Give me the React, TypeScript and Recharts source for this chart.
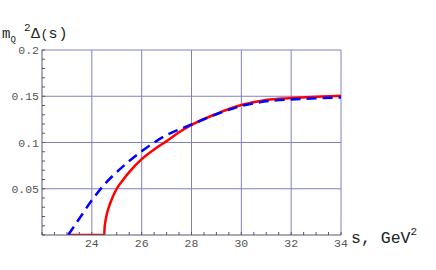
import React from "react";
import { LineChart, Line, XAxis, YAxis, ReferenceLine } from "recharts";

const redS = [23.05, 24.5, 24.51, 24.53, 24.58, 24.7, 24.85, 25, 25.25, 25.5, 26, 26.5, 27, 27.5, 28, 29, 30, 31, 32, 33, 34];
const redV = [0, 0, 0.007, 0.012, 0.02, 0.0316, 0.0418, 0.05, 0.0595, 0.068, 0.082, 0.0925, 0.1015, 0.111, 0.119, 0.131, 0.1405, 0.146, 0.148, 0.1495, 0.1505];

const blueS = [23.05, 23.5, 24, 24.5, 25, 25.5, 26, 26.5, 27, 27.5, 28, 29, 30, 31, 32, 33, 34];
const blueV = [0, 0.0178, 0.0375, 0.0545, 0.068, 0.08, 0.0905, 0.1, 0.108, 0.114, 0.1195, 0.1305, 0.1395, 0.1445, 0.1465, 0.1478, 0.1486];

const xTicks = [22, 22.5, 23, 23.5, 24, 24.5, 25, 25.5, 26, 26.5, 27, 27.5, 28, 28.5, 29, 29.5, 30, 30.5, 31, 31.5, 32, 32.5, 33, 33.5, 34];
const xLabels = [24, 26, 28, 30, 32, 34];
const yTicks = [0, 0.01, 0.02, 0.03, 0.04, 0.05, 0.06, 0.07, 0.08, 0.09, 0.1, 0.11, 0.12, 0.13, 0.14, 0.15, 0.16, 0.17, 0.18, 0.19, 0.2];
const yLabels = [0.05, 0.1, 0.15, 0.2];

const redData = redS.map((s, i) => ({ s, v: redV[i] }));
const blueData = blueS.map((s, i) => ({ s, v: blueV[i] }));

const GRID = "#8080c0";
const AXIS = "#555570";
const MONO = "'Liberation Mono', 'DejaVu Sans Mono', monospace";

function XTick(props: any) {
  const { x, y, payload } = props;
  const v = payload.value;
  const show = xLabels.includes(v);
  return (
    <g>
      <line x1={x} x2={x} y1={y} y2={y - 3} stroke={AXIS} strokeWidth={1} />
      {show && (
        <text x={x} y={y + 12} textAnchor="middle" fontFamily={MONO} fontSize={11.5} fill="#555">
          {v}
        </text>
      )}
    </g>
  );
}

function YTick(props: any) {
  const { x, y, payload } = props;
  const v = payload.value;
  const show = yLabels.some((l) => Math.abs(l - v) < 1e-9);
  return (
    <g>
      <line x1={x} x2={x + 3} y1={y} y2={y} stroke={AXIS} strokeWidth={1} />
      {show && (
        <text x={x - 3} y={y + 4} textAnchor="end" fontFamily={MONO} fontSize={11.5} fill="#555">
          {String(v)}
        </text>
      )}
    </g>
  );
}

export default function App() {
  return (
    <div style={{ position: "absolute", left: 0, top: 0, width: 436, height: 270, background: "#fff" }}>
      <LineChart width={436} height={270} margin={{ top: 50, right: 95, bottom: 15, left: 0 }}>
        <XAxis
          type="number"
          dataKey="s"
          domain={[22, 34]}
          ticks={xTicks}
          interval={0}
          tickSize={0}
          tickMargin={0}
          tick={<XTick />}
          height={20}
          stroke={AXIS}
          allowDataOverflow
        />
        <YAxis
          type="number"
          dataKey="v"
          domain={[0, 0.2]}
          ticks={yTicks}
          interval={0}
          tickSize={0}
          tickMargin={0}
          tick={<YTick />}
          width={42}
          stroke={AXIS}
          allowDataOverflow
        />
        {xLabels.map((x) => (
          <ReferenceLine key={"x" + x} x={x} stroke={GRID} strokeWidth={1} />
        ))}
        {yLabels.map((y) => (
          <ReferenceLine key={"y" + y} y={y} stroke={GRID} strokeWidth={1} />
        ))}
        <Line
          data={redData}
          dataKey="v"
          type="monotone"
          stroke="#ff0000"
          strokeWidth={2.5}
          dot={false}
          isAnimationActive={false}
        />
        <Line
          data={blueData}
          dataKey="v"
          type="monotone"
          stroke="#0000ff"
          strokeWidth={2.5}
          strokeDasharray="10 6"
          dot={false}
          isAnimationActive={false}
        />
        <g fontFamily={MONO} fill="#222">
          <text x={2} y={38} fontSize={14}>m</text>
          <text x={10.5} y={42} fontSize={9}>Q</text>
          <text x={24} y={31} fontSize={11}>2</text>
          <text x={31} y={38} fontSize={15}>Δ</text>
          <text x={40.5} y={38} fontSize={13}>(</text>
          <text x={48.5} y={38} fontSize={15}>s</text>
          <text x={58.5} y={38} fontSize={15}>)</text>
        </g>
        <text x={351} y={243} fontFamily={MONO} fontSize={16.5} fill="#222">
          s,
          <tspan dx={10}>GeV</tspan>
          <tspan fontSize={11} dy={-8}>2</tspan>
        </text>
      </LineChart>
    </div>
  );
}
